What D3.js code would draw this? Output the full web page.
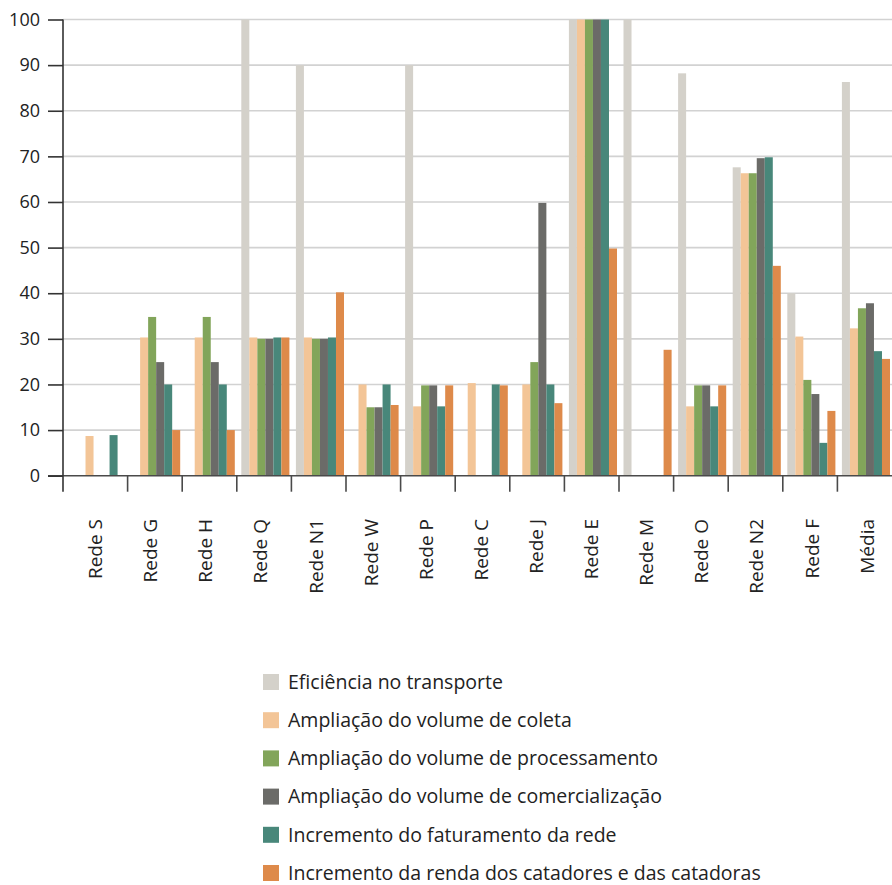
<!DOCTYPE html>
<html>
<head>
<meta charset="utf-8">
<script src="https://cdn.jsdelivr.net/npm/d3@7"></script>
<style>
  html, body { margin: 0; padding: 0; background: #ffffff; }
  svg { display: block; font-family: "Open Sans", "Noto Sans", sans-serif; }
</style>
</head>
<body>
<svg id="chart" width="892" height="885"></svg>
<script>
// Networks (redes) and the overall average
const categories = ["Rede S", "Rede G", "Rede H", "Rede Q", "Rede N1", "Rede W", "Rede P",
  "Rede C", "Rede J", "Rede E", "Rede M", "Rede O", "Rede N2", "Rede F", "Média"];

// Indicator series, one value per category (0 = no bar)
const seriesNames = [
  "Eficiência no transporte",
  "Ampliação do volume de coleta",
  "Ampliação do volume de processamento",
  "Ampliação do volume de comercialização",
  "Incremento do faturamento da rede",
  "Incremento da renda dos catadores e das catadoras"
];
const eficiencia      = [0, 0, 0, 100, 90, 0, 90, 0, 0, 100, 100, 88.2, 67.6, 40, 86.3];
const coleta          = [8.7, 30.3, 30.3, 30.3, 30.3, 20, 15.2, 20.3, 20, 100, 0, 15.2, 66.3, 30.5, 32.3];
const processamento   = [0, 34.8, 34.8, 30, 30, 15, 19.8, 0, 24.9, 100, 0, 19.8, 66.3, 21, 36.7];
const comercializacao = [0, 24.9, 24.9, 30, 30, 15, 19.8, 0, 59.8, 100, 0, 19.8, 69.6, 17.9, 37.8];
const faturamento     = [8.9, 20, 20, 30.3, 30.3, 20, 15.2, 20, 20, 100, 0, 15.2, 69.8, 7.2, 27.3];
const renda           = [0, 10, 10, 30.3, 40.2, 15.5, 19.8, 19.8, 15.9, 49.8, 27.6, 19.8, 46, 14.2, 25.6];
const seriesValues = [eficiencia, coleta, processamento, comercializacao, faturamento, renda];

const colors = ["#d4d1ca", "#f3c597", "#82a55a", "#6b6b68", "#48877a", "#de8a4a"];
const yTicks = [0, 10, 20, 30, 40, 50, 60, 70, 80, 90, 100];

const svg = d3.select("#chart");
const plotLeft = 63, plotRight = 892, plotTop = 19.5, plotBottom = 475.7;

const y = d3.scaleLinear().domain([0, 100]).range([plotBottom, plotTop]);
const x0 = d3.scaleBand().domain(categories).range([73, plotRight]).padding(0);
const x1 = d3.scaleBand().domain(d3.range(seriesNames.length)).range([4.5, x0.bandwidth() - 2]).padding(0);
const color = d3.scaleOrdinal().domain(d3.range(seriesNames.length)).range(colors);
// Positions of the rotated category labels
const xLabel = d3.scalePoint().domain(categories).range([95.5, 867]);

// Horizontal gridlines
svg.append("g")
  .selectAll("line")
  .data(yTicks.filter(d => d > 0))
  .join("line")
  .attr("x1", plotLeft).attr("x2", plotRight)
  .attr("y1", d => y(d)).attr("y2", d => y(d))
  .attr("stroke", "#d2d2d2")
  .attr("stroke-width", 1.6);

// Bars
const groups = svg.append("g")
  .selectAll("g")
  .data(categories)
  .join("g")
  .attr("transform", d => `translate(${x0(d)},0)`);

groups.selectAll("rect")
  .data((c, ci) => seriesValues.map((vals, si) => ({ s: si, v: vals[ci] })).filter(d => d.v > 0))
  .join("rect")
  .attr("x", d => x1(d.s))
  .attr("width", x1.bandwidth())
  .attr("y", d => y(d.v))
  .attr("height", d => y(0) - y(d.v))
  .attr("fill", d => color(d.s));

// X axis baseline and category separators
svg.append("line")
  .attr("x1", 48).attr("x2", plotRight)
  .attr("y1", y(0)).attr("y2", y(0))
  .attr("stroke", "#4a4a4a").attr("stroke-width", 1.6);

svg.append("g")
  .selectAll("line")
  .data(categories.slice(1))
  .join("line")
  .attr("x1", d => x0(d)).attr("x2", d => x0(d))
  .attr("y1", y(0)).attr("y2", y(0) + 16)
  .attr("stroke", "#4a4a4a").attr("stroke-width", 1.6);

// Category labels, rotated
svg.append("g")
  .selectAll("text")
  .data(categories)
  .join("text")
  .attr("transform", d => `translate(${xLabel(d)},519) rotate(-90)`)
  .attr("dy", "0.35em")
  .attr("text-anchor", "end")
  .attr("font-size", 19)
  .attr("fill", "#222")
  .text(d => d);

// Y axis
const yAxis = d3.axisLeft(y).tickValues(yTicks).tickSize(15).tickPadding(8);
const ya = svg.append("g").attr("transform", `translate(${plotLeft},0)`).call(yAxis);
ya.select(".domain").remove();
ya.selectAll(".tick line").attr("stroke", "#333").attr("stroke-width", 1.6);
ya.selectAll(".tick text")
  .attr("font-size", 18)
  .attr("font-family", "\"Open Sans\", sans-serif")
  .attr("fill", "#222");
ya.append("line")
  .attr("x1", 0).attr("x2", 0)
  .attr("y1", plotTop).attr("y2", y(0) + 16)
  .attr("stroke", "#333").attr("stroke-width", 1.6);

// Legend
const legend = svg.append("g")
  .selectAll("g")
  .data(seriesNames)
  .join("g")
  .attr("transform", (d, i) => `translate(263,${682 + i * 38.2})`);

legend.append("rect")
  .attr("x", 0).attr("y", -8)
  .attr("width", 16).attr("height", 16)
  .attr("fill", (d, i) => color(i));

legend.append("text")
  .attr("x", 25)
  .attr("dy", "0.35em")
  .attr("font-size", 19.5)
  .attr("fill", "#222")
  .text(d => d);
</script>
</body>
</html>
